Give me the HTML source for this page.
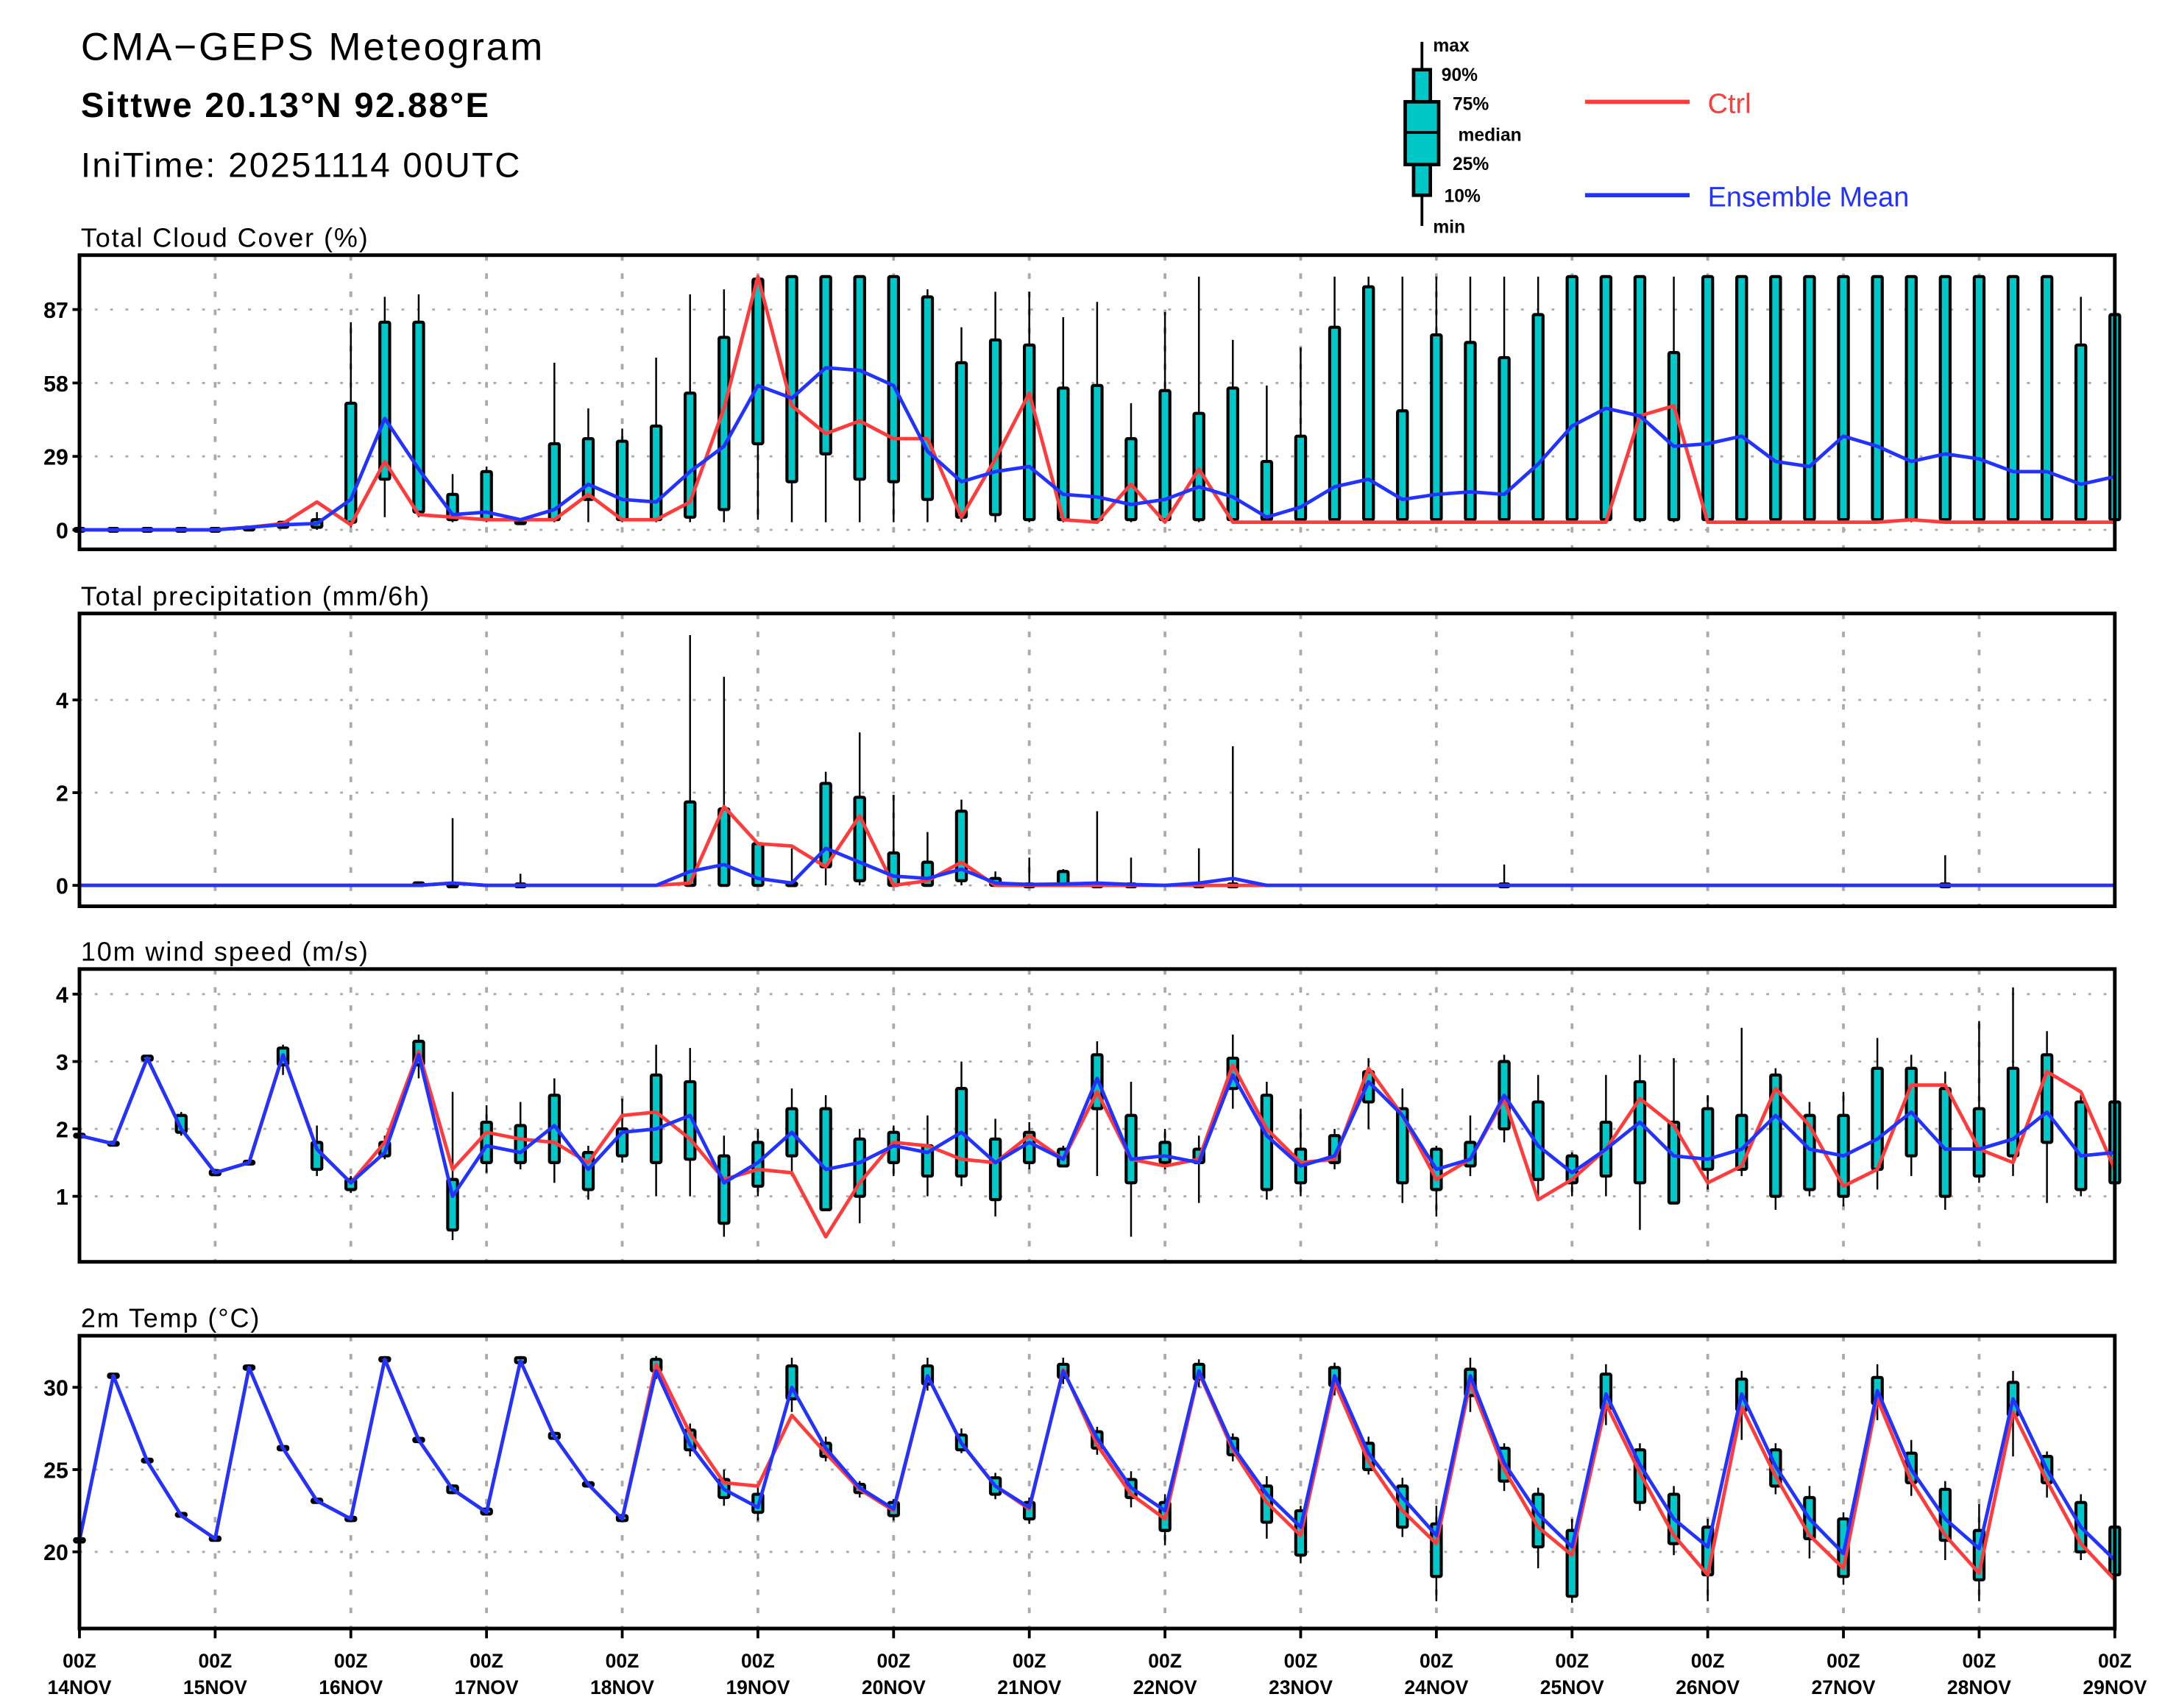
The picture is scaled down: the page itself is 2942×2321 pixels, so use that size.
<!DOCTYPE html>
<html><head><meta charset="utf-8"><title>CMA-GEPS Meteogram</title>
<style>
html,body{margin:0;padding:0;background:#fff;}
svg{display:block;}
text{font-family:"Liberation Sans",sans-serif;}
</style></head>
<body>
<svg id="chart" xmlns="http://www.w3.org/2000/svg" width="2942" height="2321" viewBox="0 0 1553 1225" preserveAspectRatio="none">
<rect x="0" y="0" width="1553" height="1225" fill="#fff"/>
<g>
<text x="58" y="43" font-size="28" letter-spacing="1.5">CMA−GEPS Meteogram</text>
<text x="58" y="84" font-size="25" font-weight="bold" letter-spacing="1.2">Sittwe 20.13°N 92.88°E</text>
<text x="58" y="127" font-size="25" letter-spacing="1.2">IniTime: 20251114 00UTC</text>
</g>
<g font-weight="bold" font-size="13">
<line x1="1020" y1="30" x2="1020" y2="162" stroke="#000" stroke-width="2"/>
<rect x="1014" y="50" width="12" height="90" fill="#00c8c8" stroke="#000" stroke-width="2.5"/>
<rect x="1008" y="73" width="24" height="45" fill="#00c8c8" stroke="#000" stroke-width="2.5"/>
<line x1="1008" y1="95" x2="1032" y2="95" stroke="#000" stroke-width="2"/>
<text x="1028" y="37">max</text><text x="1034" y="58">90%</text><text x="1042" y="79">75%</text>
<text x="1046" y="101">median</text><text x="1042" y="122">25%</text><text x="1036" y="145">10%</text><text x="1028" y="167">min</text>
<line x1="1137" y1="73" x2="1212" y2="73" stroke="#ff3b3b" stroke-width="3"/>
<text x="1225" y="81" font-size="20" font-weight="normal" fill="#ff3b3b">Ctrl</text>
<line x1="1137" y1="140" x2="1212" y2="140" stroke="#2233ff" stroke-width="3"/>
<text x="1225" y="148" font-size="20" font-weight="normal" fill="#2233ff">Ensemble Mean</text>
</g>
<g id="plots"></g>
</svg>
<script>
// ---- Data (61 steps, 6-hourly from 2025-11-14 00Z) ----
const dayLabels = ["14NOV","15NOV","16NOV","17NOV","18NOV","19NOV","20NOV","21NOV","22NOV","23NOV","24NOV","25NOV","26NOV","27NOV","28NOV","29NOV"];

const cloudTicks = [0,29,58,87];
const cloudCtrl = [0,0,0,0,0,1,2.5,11,2,27,6,5,4,4,4,14,4,4,11,48,100,49,38,43,36,36,5,28,54,4,3,18,3,24,3,3,3,3,3,3,3,3,3,3,3,3,45,49,3,3,3,3,3,3,4,3,3,3,3,3,3];
const cloudMean = [0,0,0,0,0,1,2,2.5,12,44,24,6,7,4,8,18,12,11,23,33,57,52,64,63,57,31,19,23,25,14,13,10,12,17,13,5,9,17,20,12,14,15,14,26,41,48,45,33,34,37,27,25,37,33,27,30,28,23,23,18,21];
const cloudMin = [0,0,0,0,0,0,1,0,1,5,5,3,3,3,3,3,3,3,3,3,4,3,3,3,3,3,3,3,3,3,3,3,3,3,3,3,3,3,3,3,3,3,3,3,3,3,3,3,3,3,3,3,3,3,3,3,3,3,3,3,3];
const cloudQ1 = [0,0,0,0,0,0,1,1,3,20,7,4,4,3,4,12,4,4,5,8,34,19,30,20,19,12,5,6,4,4,4,4,4,4,4,4,4,4,4,4,4,4,4,4,4,4,4,4,4,4,4,4,4,4,4,4,4,4,4,4,4];
const cloudQ3 = [0,0,0,0,0,1,3,4,50,82,82,14,23,3,34,36,35,41,54,76,99,100,100,100,100,92,66,75,73,56,57,36,55,46,56,27,37,80,96,47,77,74,68,85,100,100,100,70,100,100,100,100,100,100,100,100,100,100,100,73,85];
const cloudMax = [0,0,0,0,0,1,3,7,82,92,93,22,25,3,66,48,40,68,93,95,100,100,100,100,100,95,80,94,94,84,90,50,86,100,75,57,72,100,100,100,100,100,100,100,100,100,100,100,100,100,100,100,100,100,100,100,100,100,100,92,86];

const precTicks = [0,2,4];
const precCtrl = [0,0,0,0,0,0,0,0,0,0,0,0.05,0,0,0,0,0,0,0.05,1.7,0.9,0.85,0.4,1.5,0,0.1,0.5,0,0,0,0,0,0,0,0,0,0,0,0,0,0,0,0,0,0,0,0,0,0,0,0,0,0,0,0,0,0,0,0,0,0];
const precMean = [0,0,0,0,0,0,0,0,0,0,0,0.05,0,0,0,0,0,0,0.3,0.45,0.15,0.05,0.8,0.5,0.2,0.15,0.35,0.05,0.02,0.03,0.05,0.02,0,0.05,0.15,0,0,0,0,0,0,0,0,0,0,0,0,0,0,0,0,0,0,0,0,0,0,0,0,0,0];
const precMin = [0,0,0,0,0,0,0,0,0,0,0,0,0,0,0,0,0,0,0,0,0,0,0,0,0,0,0,0,0,0,0,0,0,0,0,0,0,0,0,0,0,0,0,0,0,0,0,0,0,0,0,0,0,0,0,0,0,0,0,0,0];
const precQ1 = [0,0,0,0,0,0,0,0,0,0,0,0,0,0,0,0,0,0,0,0,0,0,0.4,0.1,0,0,0.1,0,0,0,0,0,0,0,0,0,0,0,0,0,0,0,0,0,0,0,0,0,0,0,0,0,0,0,0,0,0,0,0,0,0];
const precQ3 = [0,0,0,0,0,0,0,0,0,0,0.05,0,0,0,0,0,0,0,1.8,1.65,0.9,0.05,2.2,1.9,0.7,0.5,1.6,0.15,0,0.3,0,0,0,0,0,0,0,0,0,0,0,0,0,0,0,0,0,0,0,0,0,0,0,0,0,0,0,0,0,0,0];
const precMax = [0,0,0,0,0,0,0,0,0,0,0.05,1.45,0,0.25,0,0,0,0,5.4,4.5,0.9,0.8,2.45,3.3,1.95,1.15,1.85,0.3,0.6,0.35,1.6,0.6,0,0.8,3.0,0,0,0,0,0,0,0,0.45,0,0,0,0,0,0,0,0,0,0,0,0,0.65,0,0,0,0,0];

const windTicks = [1,2,3,4];
const windCtrl = [1.9,1.78,3.05,2.0,1.35,1.5,3.1,1.7,1.2,1.8,3.15,1.4,1.95,1.85,1.8,1.5,2.2,2.25,1.85,1.25,1.4,1.35,0.4,1.2,1.8,1.75,1.55,1.5,1.9,1.55,2.55,1.55,1.45,1.55,2.95,2.0,1.5,1.55,2.9,2.2,1.25,1.55,2.45,0.95,1.25,1.7,2.45,2.05,1.2,1.45,2.6,2.05,1.15,1.4,2.65,2.65,1.7,1.5,2.85,2.55,1.4];
const windMean = [1.9,1.78,3.05,2.0,1.35,1.5,3.1,1.7,1.2,1.65,3.1,1.0,1.75,1.65,2.05,1.4,1.95,2.0,2.2,1.2,1.5,1.95,1.4,1.5,1.75,1.65,1.95,1.5,1.8,1.55,2.75,1.55,1.6,1.5,2.8,1.9,1.45,1.6,2.7,2.2,1.4,1.55,2.5,1.75,1.35,1.7,2.1,1.6,1.55,1.7,2.2,1.7,1.6,1.85,2.25,1.7,1.7,1.85,2.25,1.6,1.65];
const windMin = [1.88,1.76,3.0,1.9,1.3,1.48,2.8,1.3,1.05,1.55,2.75,0.35,1.35,1.4,1.2,0.95,1.5,1.0,1.0,0.4,1.0,1.3,0.8,0.6,1.3,1.0,1.15,0.7,1.4,1.45,1.3,0.4,1.4,0.9,2.3,0.95,1.0,1.4,2.0,0.9,0.7,1.3,1.8,0.95,1.0,1.0,0.5,0.9,1.1,1.3,0.8,1.0,0.85,1.1,1.3,0.8,1.2,1.3,0.9,1.0,1.1];
const windQ1 = [1.88,1.76,3.02,1.95,1.32,1.48,2.95,1.4,1.1,1.6,2.95,0.5,1.5,1.5,1.5,1.1,1.6,1.5,1.55,0.6,1.15,1.6,0.8,1.0,1.5,1.3,1.3,0.95,1.5,1.45,2.3,1.2,1.5,1.5,2.6,1.1,1.2,1.5,2.4,1.2,1.1,1.45,2.0,1.25,1.2,1.3,1.2,0.9,1.4,1.4,1.0,1.1,1.0,1.4,1.6,1.0,1.3,1.6,1.8,1.1,1.2];
const windQ3 = [1.92,1.8,3.08,2.2,1.38,1.52,3.2,1.8,1.25,1.8,3.3,1.25,2.1,2.05,2.5,1.65,2.0,2.8,2.7,1.6,1.8,2.3,2.3,1.85,1.95,1.75,2.6,1.85,1.95,1.7,3.1,2.2,1.8,1.7,3.05,2.5,1.7,1.9,2.85,2.3,1.7,1.8,3.0,2.4,1.6,2.1,2.7,2.1,2.3,2.2,2.8,2.2,2.2,2.9,2.9,2.6,2.3,2.9,3.1,2.4,2.4];
const windMax = [1.92,1.8,3.1,2.25,1.4,1.52,3.25,2.05,1.3,1.9,3.4,2.55,2.35,2.4,2.75,1.75,2.45,3.25,3.2,1.9,2.0,2.6,2.5,2.0,2.05,2.2,3.0,2.15,2.1,1.75,3.3,2.7,2.0,1.9,3.4,2.7,2.3,2.0,3.05,2.6,1.75,2.2,3.1,2.8,1.65,2.8,3.1,3.05,2.5,3.5,2.9,2.4,2.55,3.35,3.1,2.85,3.6,4.1,3.45,2.5,2.5];

const tempTicks = [20,25,30];
const tempCtrl = [20.7,30.7,25.5,22.2,20.8,31.2,26.3,23.1,22.0,31.7,26.8,23.8,22.4,31.6,27.0,24.1,22.0,31.4,27.2,24.2,24.0,28.3,26.0,23.8,22.5,30.7,26.6,24.0,22.6,31.1,26.5,23.5,22.0,30.9,26.2,23.0,21.0,30.3,25.5,22.5,20.5,30.3,25.0,21.5,19.8,29.0,24.8,21.0,18.6,28.8,24.6,21.0,19.0,29.3,24.3,21.0,18.7,28.5,24.3,20.5,18.3];
const tempMean = [20.7,30.7,25.5,22.2,20.8,31.2,26.3,23.1,22.0,31.7,26.8,23.8,22.4,31.6,27.0,24.1,22.0,31.0,26.5,23.8,22.7,30.0,26.3,23.9,22.6,30.7,26.6,24.0,22.7,31.0,26.9,23.9,22.5,31.0,26.4,23.5,21.5,30.7,26.0,23.3,21.0,30.7,25.4,22.3,20.3,29.6,25.3,22.0,20.3,29.6,25.2,22.0,19.9,29.8,25.0,22.0,20.2,29.3,25.0,21.5,19.5];
const tempMin = [20.6,30.6,25.4,22.1,20.7,31.0,26.2,23.0,21.9,31.5,26.6,23.5,22.2,31.4,26.8,23.9,21.8,30.5,25.8,22.8,21.9,28.5,25.5,23.3,21.9,29.8,26.0,23.2,21.7,30.2,25.9,22.7,20.4,30.0,25.5,20.8,19.3,29.5,24.7,20.9,17.0,28.5,23.7,19.0,16.9,27.7,22.5,19.8,17.0,26.8,23.5,19.6,18.0,28.0,23.4,19.5,17.0,25.8,23.3,19.5,18.0];
const tempQ1 = [20.6,30.6,25.5,22.2,20.7,31.1,26.2,23.0,21.9,31.6,26.7,23.6,22.3,31.5,26.9,24.0,21.9,31.0,26.2,23.3,22.4,29.3,25.8,23.6,22.2,30.2,26.2,23.5,22.0,30.6,26.3,23.3,21.3,30.5,25.9,21.8,19.8,30.1,25.0,21.5,18.5,29.5,24.3,20.3,17.3,28.7,23.0,20.5,18.6,28.6,24.0,20.8,18.5,29.0,24.2,20.7,18.3,28.3,24.2,20.0,18.6];
const tempQ3 = [20.8,30.8,25.6,22.3,20.9,31.3,26.4,23.2,22.1,31.8,26.9,24.0,22.6,31.8,27.2,24.2,22.2,31.7,27.4,24.4,23.5,31.3,26.6,24.1,23.0,31.3,27.1,24.5,23.0,31.4,27.3,24.4,23.0,31.4,26.9,24.0,22.5,31.2,26.6,24.0,21.7,31.1,26.3,23.5,21.3,30.8,26.2,23.5,21.5,30.5,26.2,23.3,22.0,30.6,26.0,23.8,21.3,30.3,25.8,23.0,21.5];
const tempMax = [20.8,30.8,25.6,22.3,20.9,31.4,26.4,23.2,22.1,31.9,27.0,24.1,22.7,31.9,27.3,24.3,22.3,31.9,27.8,25.0,24.0,31.8,27.0,24.3,23.2,31.8,27.5,24.8,23.3,31.8,27.6,24.9,23.5,31.7,27.2,24.6,22.8,31.5,27.0,24.5,22.8,31.8,26.6,23.9,22.0,31.4,26.6,24.0,22.0,31.0,26.6,24.0,22.4,31.4,26.8,24.3,22.9,31.0,26.1,23.5,22.2];

// ---- Layout ----
const NS = "http://www.w3.org/2000/svg";
const X0 = 57, X1 = 1517, NSTEP = 60;
function xOf(i){ return X0 + i*(X1-X0)/NSTEP; }
function scale(v0,y0,v1,y1){ return v => y0 + (v-v0)*(y1-y0)/(v1-v0); }

const panels = [
  {name:"cloud-cover", title:"Total Cloud Cover (%)", top:183, bot:394, y:scale(0,380,87,222), ticks:cloudTicks,
   ctrl:cloudCtrl, mean:cloudMean, mn:cloudMin, q1:cloudQ1, q3:cloudQ3, mx:cloudMax},
  {name:"precipitation", title:"Total precipitation (mm/6h)", top:440, bot:650, y:scale(0,635,4,502), ticks:precTicks,
   ctrl:precCtrl, mean:precMean, mn:precMin, q1:precQ1, q3:precQ3, mx:precMax},
  {name:"wind-speed", title:"10m wind speed (m/s)", top:695, bot:905, y:scale(1,858,4,713), ticks:windTicks,
   ctrl:windCtrl, mean:windMean, mn:windMin, q1:windQ1, q3:windQ3, mx:windMax},
  {name:"temperature", title:"2m Temp (°C)", top:958, bot:1168, y:scale(20,1113,30,995), ticks:tempTicks,
   ctrl:tempCtrl, mean:tempMean, mn:tempMin, q1:tempQ1, q3:tempQ3, mx:tempMax}
];

const root = document.getElementById("plots");
function mk(tag, attrs, parent){
  const e = document.createElementNS(NS, tag);
  for (const k in attrs) e.setAttribute(k, attrs[k]);
  (parent||root).appendChild(e);
  return e;
}

panels.forEach(p => {
  const g = mk("g", {});
  
  
  const t = mk("text", {x:58, y:p.top-6, "font-size":19, "letter-spacing":"1"}, g);
  t.textContent = p.title;
  
  
  // vertical day grid
  for (let d=1; d<15; d++){
    const x = xOf(d*4);
    mk("line", {x1:x, y1:p.top, x2:x, y2:p.bot, stroke:"#aaa", "stroke-width":2, "stroke-dasharray":"4 9"}, g);
  }
  // horizontal grid + ticks
  p.ticks.forEach(v => {
    const y = p.y(v);
    mk("line", {x1:X0, y1:y, x2:X1, y2:y, stroke:"#aaa", "stroke-width":1.5, "stroke-dasharray":"2 9"}, g);
    mk("line", {x1:X0-5, y1:y, x2:X0, y2:y, stroke:"#000", "stroke-width":2}, g);
    const tl = mk("text", {x:X0-8, y:y+6, "font-size":16, "font-weight":"bold", "text-anchor":"end"}, g);
    tl.textContent = v;
    
    
  });
  // boxes
  for (let i=0; i<=NSTEP; i++){
    const x = xOf(i);
    const yMin = p.y(p.mn[i]), yMax = p.y(p.mx[i]), yQ1 = p.y(p.q1[i]), yQ3 = p.y(p.q3[i]);
    if (yMin - yMax < 0.5 && yQ1 - yQ3 < 0.5 && p.name==="precipitation") continue;
    const w = mk("line", {x1:x, y1:yMin, x2:x, y2:yMax, stroke:"#000", "stroke-width":1.3}, g);
    
    
    const h = Math.max(yQ1 - yQ3, 2);
    const b = mk("rect", {x:x-3.5, y:yQ3 - (h - (yQ1-yQ3))/2, width:7, height:h, fill:"#00c8c8", stroke:"#000", "stroke-width":2.2, rx:1}, g);
    
    
  }
  // lines
  const ptsC = p.ctrl.map((v,i)=>xOf(i)+","+p.y(v)).join(" ");
  const ptsM = p.mean.map((v,i)=>xOf(i)+","+p.y(v)).join(" ");
  const lc = mk("polyline", {points:ptsC, fill:"none", stroke:"#ff3b3b", "stroke-width":2.5, "stroke-linejoin":"round"}, g);
  
  
  const lm = mk("polyline", {points:ptsM, fill:"none", stroke:"#2233ff", "stroke-width":2.5, "stroke-linejoin":"round"}, g);
  
  
  // frame
  const f = mk("rect", {x:X0, y:p.top, width:X1-X0, height:p.bot-p.top, fill:"none", stroke:"#000", "stroke-width":2.6}, g);
  
  
});

// x axis labels
const xa = mk("g", {});


dayLabels.forEach((lab, d) => {
  const x = xOf(d*4);
  mk("line", {x1:x, y1:1168, x2:x, y2:1175, stroke:"#000", "stroke-width":2}, xa);
  const a = mk("text", {x:x, y:1196, "font-size":14, "font-weight":"bold", "text-anchor":"middle"}, xa);
  a.textContent = "00Z";
  
  
  const b = mk("text", {x:x, y:1215, "font-size":14, "font-weight":"bold", "text-anchor":"middle"}, xa);
  b.textContent = lab;
  
  
});
</script>
</body></html>
